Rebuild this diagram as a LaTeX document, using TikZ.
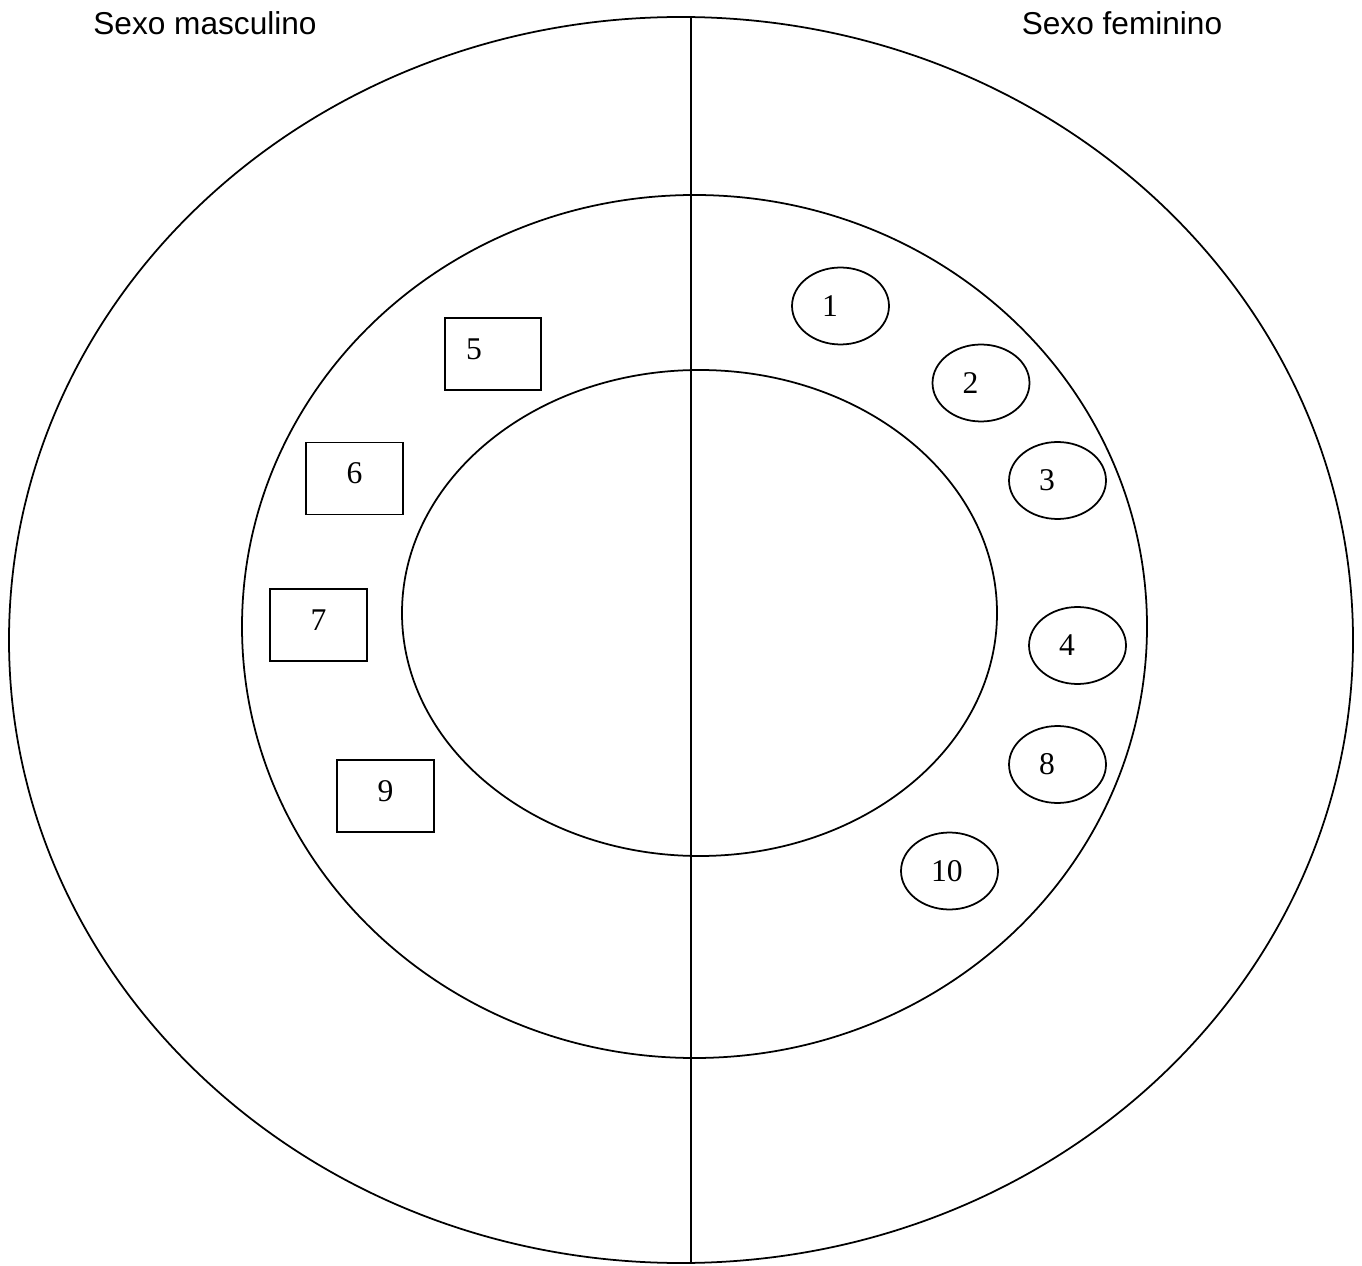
\documentclass[tikz,border=0pt]{standalone}
\usepackage{fontspec}
\setmainfont{Liberation Serif}
\newfontfamily\arialfont{Liberation Sans}
\usetikzlibrary{shapes.geometric}
\pgfdeclarelayer{edgelayer}
\pgfdeclarelayer{nodelayer}
\pgfsetlayers{edgelayer,nodelayer,main}
\tikzstyle{none}=[inner sep=0pt]
\tikzstyle{title}=[inner sep=0pt, font=\arialfont\fontsize{18}{22}\selectfont]
\tikzstyle{ring}=[draw=black, line width=1pt]
\tikzstyle{box}=[rectangle, fill=white, draw=black, line width=1pt, minimum width=1.93cm, minimum height=1.44cm, inner sep=0pt, text depth=0.2cm, font=\fontsize{18}{22}\selectfont]
\tikzstyle{oval}=[ellipse, fill=white, draw=black, line width=1pt, minimum width=1.94cm, minimum height=1.54cm, inner sep=0pt, text width=0.74cm, align=left, font=\fontsize{18}{22}\selectfont]

\begin{document}
\begin{tikzpicture}[x=0.02cm, y=-0.02cm]
			\useasboundingbox (0, 0) rectangle (1362, 1266);
			\begin{pgfonlayer}{nodelayer}
			\node [style=title] (21) at (205, 23) {Sexo masculino};
			\node [style=title] (22) at (1122, 23) {Sexo feminino};
			\node [style=none] (13) at (691, 17) {};
			\node [style=none] (14) at (691, 1263) {};
			\node [style=box] (5) at (493, 354) [align=left, text width=1.08cm] {5};
			\node [style=box] (6) at (354.5, 478.5) {6};
			\node [style=box] (7) at (318.5, 625) {7};
			\node [style=box] (9) at (385.5, 796) {9};
			\node [style=oval] (1) at (840.5, 306) {1};
			\node [style=oval] (2) at (981, 383) {2};
			\node [style=oval] (3) at (1057.5, 480.5) {3};
			\node [style=oval] (4) at (1077.5, 645.5) {4};
			\node [style=oval] (8) at (1057.5, 764.5) {8};
			\node [style=oval] (10) at (949.5, 871) {10};
			\end{pgfonlayer}
			\begin{pgfonlayer}{edgelayer}
			\draw [style=ring] (681, 640) ellipse (672 and 623);
			\draw [style=ring] (694.5, 626.5) ellipse (452.5 and 431.5);
			\draw [style=ring] (699.5, 613) ellipse (297.5 and 243);
			\draw [style=ring] (13.center) to (14.center);
			\end{pgfonlayer}
\end{tikzpicture}
\end{document}
